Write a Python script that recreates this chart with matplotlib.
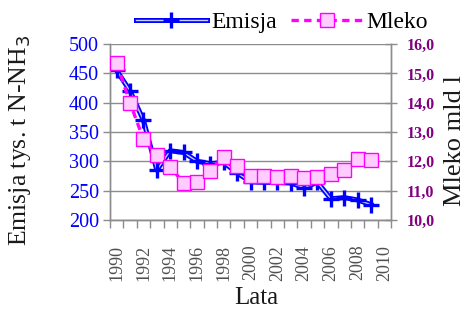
import matplotlib

matplotlib.use("Agg")
import matplotlib.pyplot as plt
import matplotlib.patheffects as pe
import numpy as np

years = list(range(1990, 2011))
emisja = [455, 420, 370, 285, 318, 315, 300, 296, 298, 280,
          265, 264, 264, 263, 255, 264, 236, 238, 234, 226]
mleko = [15.35, 14.0, 12.75, 12.2, 11.82, 11.25, 11.3, 11.68, 12.16, 11.83,
         11.5, 11.5, 11.45, 11.5, 11.42, 11.48, 11.56, 11.7, 12.07, 12.04]
year_labels = [str(y) for y in years[::2]]

plt.rcParams["font.family"] = ["Liberation Serif", "DejaVu Serif"]
grey = "#8c8c8c"
blue = "#0000ff"
purple = "#800080"
magenta = "#ff00ff"

fig = plt.figure(figsize=(4.74, 3.15), dpi=100)
ax = fig.add_axes([0.232, 0.302, 0.593, 0.558])
ax2 = ax.twinx()

x = np.arange(len(emisja))
xm = np.arange(len(mleko))

# Emisja: blue "double" line with + markers
ln_e, = ax.plot(x, emisja, color="#c8d0ff", linewidth=1.0, zorder=3,
                path_effects=[pe.Stroke(linewidth=3.6, foreground=blue), pe.Normal()])
mk_e, = ax.plot(x, emisja, linestyle="none", marker="+", markersize=11,
                markeredgewidth=2.4, color=blue, zorder=4)

# Mleko: magenta dashed line with pink squares
ln_m, = ax2.plot(xm, mleko, color=magenta, linewidth=2.4, linestyle=(0, (2.2, 1.6)),
                 marker="s", markersize=9.5, markerfacecolor="#ffccff",
                 markeredgecolor=magenta, markeredgewidth=1.0, zorder=3)

ax.set_xlim(-0.5, len(years) - 0.5)
ax.set_ylim(200, 500)
ax2.set_ylim(10, 16)

ax.set_yticks(np.arange(200, 501, 50))
ax2.set_yticks(np.arange(10, 16.1, 1))
ax2.set_yticklabels([f"{v:.1f}".replace(".", ",") for v in np.arange(10, 16.1, 1)])

ax.set_xticks(np.arange(0, len(years), 2))
ax.set_xticklabels(year_labels, rotation=90, fontsize=13, color="#505050")
ax.set_xticks(np.arange(-0.5, len(years), 1), minor=True)
ax.tick_params(axis="x", which="major", length=0, pad=18)
ax.tick_params(axis="x", which="minor", length=6, color=grey, width=1)

ax.tick_params(axis="y", colors=blue, labelsize=14.5, length=5, width=1, pad=3)
ax.tick_params(axis="y", color=grey)
ax2.tick_params(axis="y", colors=purple, labelsize=11.5, length=8, width=1,
                direction="inout", pad=7)
ax2.tick_params(axis="y", color=grey)
for lab in ax2.get_yticklabels():
    lab.set_fontweight("bold")

ax.grid(axis="y", color=grey, linewidth=1.0, zorder=0)
ax.set_axisbelow(True)

for a in (ax, ax2):
    a.spines["top"].set_visible(False)
    for s in ("left", "right", "bottom"):
        a.spines[s].set_color(grey)
        a.spines[s].set_linewidth(1.0)

ax.set_ylabel("Emisja tys. t N-NH$_3$", fontsize=18.5, color="#1a1a1a")
ax.yaxis.set_label_coords(-0.275, 0.45)
ax2.set_ylabel("Mleko mld l", fontsize=19, color="#1a1a1a")
ax2.yaxis.set_label_coords(1.19, 0.45)
ax.set_xlabel("Lata", fontsize=18, color="#1a1a1a")
ax.xaxis.set_label_coords(0.52, -0.38)

fig.legend([(ln_e, mk_e), ln_m], ["Emisja", "Mleko"], loc="center",
           bbox_to_anchor=(0.595, 0.93), ncol=2, frameon=False, fontsize=17,
           handlelength=3.0, handletextpad=0.2, columnspacing=0.6)

fig.savefig("out.png", dpi=100)
